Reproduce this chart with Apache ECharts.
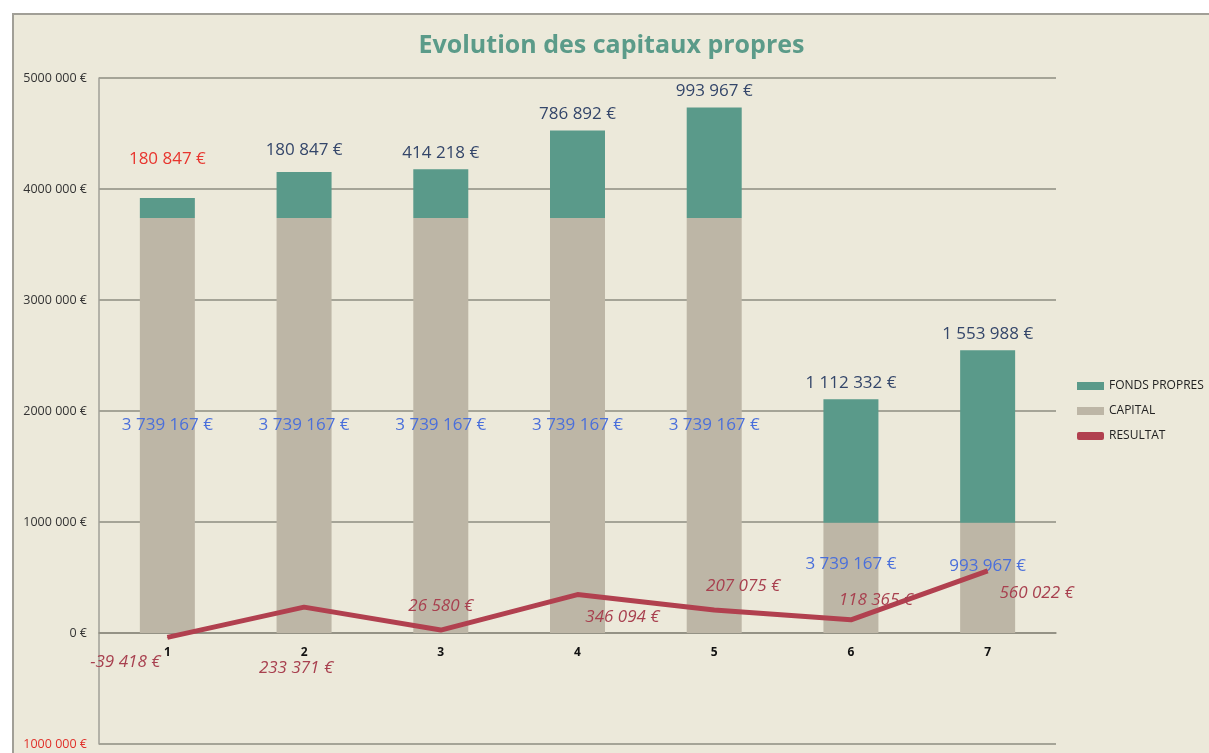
<!DOCTYPE html>
<html>
<head>
<meta charset="utf-8">
<script src="https://cdn.jsdelivr.net/npm/echarts@6/dist/echarts.min.js"></script>
<style>
  html, body { margin: 0; padding: 0; background: #ffffff; width: 1209px; height: 753px; overflow: hidden; }
  #frame { position: absolute; left: 12px; top: 13px; width: 1197px; height: 740px;
           border-top: 2px solid #a19f97; border-left: 2px solid #a19f97; box-sizing: border-box; background: #ece9da; }
  #chart { position: absolute; left: 0; top: 0; width: 1195px; height: 738px; }
</style>
</head>
<body>
<div id="frame"><div id="chart"></div></div>
<script>
// Years of the business plan
const categories = ['1', '2', '3', '4', '5', '6', '7'];

// Stacked bars: share capital, then equity on top of it
const capital = [3739167, 3739167, 3739167, 3739167, 3739167, 993967, 993967];
const fondsPropres = [180847, 414218, 438000, 786892, 993967, 1112332, 1553988];

// Net result per year
const resultat = [-39418, 233371, 26580, 346094, 207075, 118365, 560022];

// Data label texts shown on the bars
const capitalLabels = ['3 739 167 €', '3 739 167 €', '3 739 167 €', '3 739 167 €', '3 739 167 €', '3 739 167 €', '993 967 €'];
const fondsPropresLabels = ['180 847 €', '180 847 €', '414 218 €', '786 892 €', '993 967 €', '1 112 332 €', '1 553 988 €'];

// Value axis range
const yMin = -1000000, yMax = 5000000, yStep = 1000000;

const FONT = '"Open Sans", sans-serif';
const GRID_TOP = 63, GRID_BOTTOM = 9, CHART_H = 738;

function euro(v) {
  const s = Math.abs(Math.round(v)).toString().replace(/\B(?=(\d{3})+(?!\d))/g, ' ');
  return (v < 0 ? '-' : '') + s + ' €';
}
function axisEuro(v) {
  if (v === 0) return '0 €';
  return Math.abs(v) / 1000 + ' 000 €';
}

// Category axis sits on the zero line: shift it up by the height of the negative range
const plotH = CHART_H - GRID_TOP - GRID_BOTTOM;
const zeroShift = plotH * (0 - yMin) / (yMax - yMin);

// Label placement tweaks (pixel offsets)
const resultOffsets = [[-42, 25], [-8, 61], [0, -24], [45, 23], [29, -24], [25, -20], [49, 22]];
const fpOffsets = [[0, -22], [0, -5], [0, 0], [0, 0], [0, 0], [0, 0], [0, 0]];
const capOffsets = [[0, 0], [0, 0], [0, 0], [0, 0], [0, 0], [0, -14], [0, -12]];

const chart = echarts.init(document.getElementById('chart'));

chart.setOption({
  backgroundColor: '#ece9da',
  animation: false,
  title: {
    text: 'Evolution des capitaux propres',
    left: 'center',
    top: 13,
    textStyle: { fontFamily: FONT, fontWeight: 'bold', fontSize: 25, color: '#5b9b89' }
  },
  legend: {
    orient: 'vertical',
    left: 1063,
    top: 365,
    padding: 0,
    itemWidth: 27,
    itemHeight: 8,
    itemGap: 13,
    textStyle: { fontFamily: FONT, fontSize: 12, color: '#222222' },
    data: [
      { name: 'FONDS PROPRES', icon: 'rect' },
      { name: 'CAPITAL', icon: 'rect' },
      { name: 'RESULTAT', icon: 'roundRect' }
    ]
  },
  grid: { left: 85, top: GRID_TOP, right: 153, bottom: GRID_BOTTOM, containLabel: false, outerBoundsMode: 'none' },
  xAxis: {
    type: 'category',
    data: categories,
    offset: -zeroShift,
    axisLine: { onZero: false, lineStyle: { color: '#8e8c80', width: 1.5 } },
    axisTick: { show: false },
    axisLabel: { fontFamily: FONT, fontWeight: 'bold', fontSize: 12, color: '#111111', margin: 14 }
  },
  yAxis: {
    type: 'value',
    min: yMin,
    max: yMax,
    interval: yStep,
    axisLine: { show: true, lineStyle: { color: '#a19f97', width: 1.5 } },
    axisTick: { show: false },
    splitLine: { lineStyle: { color: '#8e8c80', width: 1.5 } },
    axisLabel: {
      fontFamily: FONT, fontSize: 12.5, color: '#333333', margin: 12,
      formatter: function (v) { return v < 0 ? '{neg|' + axisEuro(v) + '}' : axisEuro(v); },
      rich: { neg: { color: '#e0302a', fontFamily: FONT, fontSize: 12.5 } }
    }
  },
  series: [
    {
      name: 'CAPITAL',
      type: 'bar',
      stack: 'total',
      barWidth: 55,
      itemStyle: { color: '#bdb6a6' },
      data: capital.map(function (v, i) {
        return { value: v, label: { formatter: capitalLabels[i], offset: capOffsets[i] } };
      }),
      label: {
        show: true, position: 'inside',
        fontFamily: FONT, fontSize: 17, color: '#4a6fdb'
      }
    },
    {
      name: 'FONDS PROPRES',
      type: 'bar',
      stack: 'total',
      barWidth: 55,
      itemStyle: { color: '#5a9a8a' },
      data: fondsPropres.map(function (v, i) {
        return {
          value: v,
          label: { formatter: fondsPropresLabels[i], offset: fpOffsets[i], color: i === 0 ? '#e8352e' : '#34466a' }
        };
      }),
      label: {
        show: true, position: 'top', distance: 8,
        fontFamily: FONT, fontSize: 17, color: '#34466a'
      }
    },
    {
      name: 'RESULTAT',
      type: 'line',
      z: 5,
      symbol: 'circle',
      symbolSize: 1,
      showSymbol: true,
      itemStyle: { color: '#b1404f' },
      lineStyle: { color: '#b1404f', width: 5 },
      data: resultat.map(function (v, i) {
        return { value: v, label: { offset: resultOffsets[i] } };
      }),
      label: {
        show: true, position: 'inside',
        fontFamily: FONT, fontSize: 17, fontStyle: 'italic', color: '#a8404f',
        formatter: function (p) { return euro(p.value); }
      }
    }
  ]
});
</script>
</body>
</html>
